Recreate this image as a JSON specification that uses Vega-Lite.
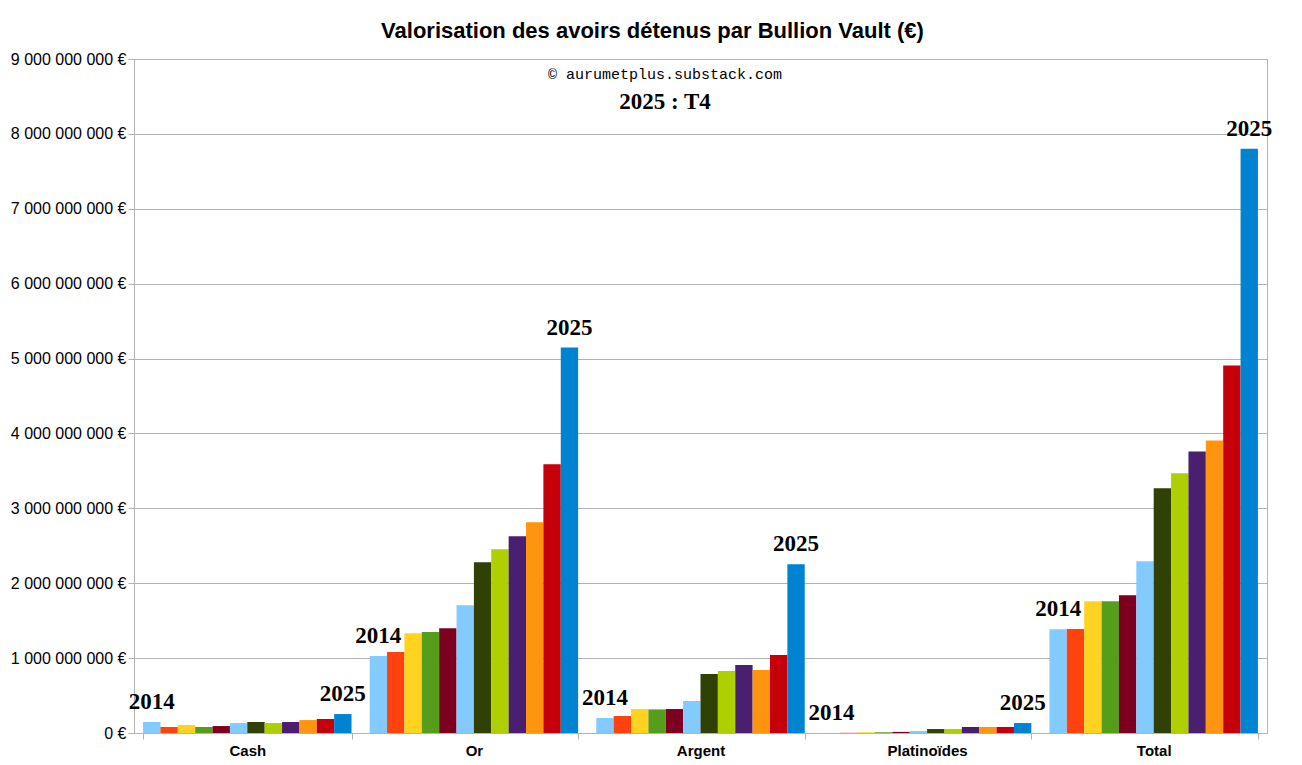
{
  "$schema": "https://vega.github.io/schema/vega-lite/v6.json",
  "width": 1133,
  "height": 674,
  "padding": {"left": 10, "top": 20, "right": 25, "bottom": 5},
  "background": "white",
  "config": {
    "view": {"stroke": "#b3b3b3"},
    "locale": {"number": {"decimal": ",", "thousands": " ", "grouping": [3], "currency": ["", " €"]}}
  },
  "title": {
    "text": "Valorisation des avoirs détenus par Bullion Vault (€)",
    "font": "Liberation Sans", "fontSize": 22, "fontWeight": "bold", "color": "black", "offset": 8, "dx": -48
  },
  "data": {"values": [
    {"cat": "Cash", "year": 2014, "v": 147000000}, {"cat": "Cash", "year": 2015, "v": 80000000}, {"cat": "Cash", "year": 2016, "v": 107000000}, {"cat": "Cash", "year": 2017, "v": 80000000}, {"cat": "Cash", "year": 2018, "v": 93000000}, {"cat": "Cash", "year": 2019, "v": 133000000}, {"cat": "Cash", "year": 2020, "v": 147000000}, {"cat": "Cash", "year": 2021, "v": 133000000}, {"cat": "Cash", "year": 2022, "v": 147000000}, {"cat": "Cash", "year": 2023, "v": 173000000}, {"cat": "Cash", "year": 2024, "v": 187000000}, {"cat": "Cash", "year": 2025, "v": 253000000},
    {"cat": "Or", "year": 2014, "v": 1027000000}, {"cat": "Or", "year": 2015, "v": 1080000000}, {"cat": "Or", "year": 2016, "v": 1333000000}, {"cat": "Or", "year": 2017, "v": 1347000000}, {"cat": "Or", "year": 2018, "v": 1400000000}, {"cat": "Or", "year": 2019, "v": 1707000000}, {"cat": "Or", "year": 2020, "v": 2280000000}, {"cat": "Or", "year": 2021, "v": 2453000000}, {"cat": "Or", "year": 2022, "v": 2627000000}, {"cat": "Or", "year": 2023, "v": 2813000000}, {"cat": "Or", "year": 2024, "v": 3587000000}, {"cat": "Or", "year": 2025, "v": 5147000000},
    {"cat": "Argent", "year": 2014, "v": 200000000}, {"cat": "Argent", "year": 2015, "v": 227000000}, {"cat": "Argent", "year": 2016, "v": 320000000}, {"cat": "Argent", "year": 2017, "v": 315000000}, {"cat": "Argent", "year": 2018, "v": 320000000}, {"cat": "Argent", "year": 2019, "v": 427000000}, {"cat": "Argent", "year": 2020, "v": 787000000}, {"cat": "Argent", "year": 2021, "v": 827000000}, {"cat": "Argent", "year": 2022, "v": 907000000}, {"cat": "Argent", "year": 2023, "v": 840000000}, {"cat": "Argent", "year": 2024, "v": 1040000000}, {"cat": "Argent", "year": 2025, "v": 2253000000},
    {"cat": "Platinoïdes", "year": 2014, "v": 1000000}, {"cat": "Platinoïdes", "year": 2015, "v": 3000000}, {"cat": "Platinoïdes", "year": 2016, "v": 10000000}, {"cat": "Platinoïdes", "year": 2017, "v": 10000000}, {"cat": "Platinoïdes", "year": 2018, "v": 15000000}, {"cat": "Platinoïdes", "year": 2019, "v": 27000000}, {"cat": "Platinoïdes", "year": 2020, "v": 53000000}, {"cat": "Platinoïdes", "year": 2021, "v": 53000000}, {"cat": "Platinoïdes", "year": 2022, "v": 80000000}, {"cat": "Platinoïdes", "year": 2023, "v": 80000000}, {"cat": "Platinoïdes", "year": 2024, "v": 80000000}, {"cat": "Platinoïdes", "year": 2025, "v": 133000000},
    {"cat": "Total", "year": 2014, "v": 1387000000}, {"cat": "Total", "year": 2015, "v": 1390000000}, {"cat": "Total", "year": 2016, "v": 1760000000}, {"cat": "Total", "year": 2017, "v": 1760000000}, {"cat": "Total", "year": 2018, "v": 1840000000}, {"cat": "Total", "year": 2019, "v": 2293000000}, {"cat": "Total", "year": 2020, "v": 3267000000}, {"cat": "Total", "year": 2021, "v": 3467000000}, {"cat": "Total", "year": 2022, "v": 3760000000}, {"cat": "Total", "year": 2023, "v": 3907000000}, {"cat": "Total", "year": 2024, "v": 4907000000}, {"cat": "Total", "year": 2025, "v": 7800000000}
  ]},
  "encoding": {
    "x": {"field": "cat", "type": "nominal", "sort": null, "title": null,
      "scale": {"domain": ["Cash", "Or", "Argent", "Platinoïdes", "Total"], "paddingInner": 0.08, "paddingOuter": 0.04},
      "axis": {"labelAngle": 0, "labelFont": "Liberation Sans", "labelFontSize": 15, "labelFontWeight": "bold", "labelColor": "black", "labelPadding": 4, "tickBand": "extent", "tickColor": "#b3b3b3", "domainColor": "#b3b3b3", "tickSize": 6}},
    "xOffset": {"field": "year", "type": "ordinal", "scale": {"paddingInner": 0}},
    "y": {"field": "v", "type": "quantitative", "title": null,
      "scale": {"domain": [0, 9000000000]},
      "axis": {"values": [0, 1000000000, 2000000000, 3000000000, 4000000000, 5000000000, 6000000000, 7000000000, 8000000000, 9000000000],
        "labelExpr": "format(datum.value, ',d') + ' €'", "labelFont": "Liberation Sans", "labelFontSize": 16, "labelColor": "black",
        "gridColor": "#b3b3b3", "tickColor": "#b3b3b3", "domainColor": "#b3b3b3", "tickSize": 6}}
  },
  "layer": [
    {"mark": {"type": "bar"},
      "encoding": {"color": {"field": "year", "type": "ordinal", "legend": null,
        "scale": {"range": ["#83CAFF", "#FF420E", "#FFD320", "#579D1C", "#7E0021", "#83CAFF", "#314004", "#AECF00", "#4B1F6F", "#FF950E", "#C5000B", "#0084D1"]}}}},
    {"transform": [{"filter": "datum.year == 2014 || datum.year == 2025"}],
      "mark": {"type": "text", "font": "Liberation Serif", "fontSize": 23, "fontWeight": "bold", "baseline": "bottom", "dy": -8},
      "encoding": {"text": {"field": "year"}}},
    {"data": {"values": [{"t": "© aurumetplus.substack.com", "y": 8800000000}]},
      "mark": {"type": "text", "font": "Liberation Mono", "fontSize": 15, "baseline": "middle", "dx": 60},
      "encoding": {"x": {"datum": "Argent"}, "xOffset": {"datum": 2014}, "y": {"field": "y", "type": "quantitative"}, "text": {"field": "t"}}},
    {"data": {"values": [{"t": "2025 : T4", "y": 8420000000}]},
      "mark": {"type": "text", "font": "Liberation Serif", "fontSize": 23, "fontWeight": "bold", "baseline": "middle", "dx": 60},
      "encoding": {"x": {"datum": "Argent"}, "xOffset": {"datum": 2014}, "y": {"field": "y", "type": "quantitative"}, "text": {"field": "t"}}}
  ]
}
